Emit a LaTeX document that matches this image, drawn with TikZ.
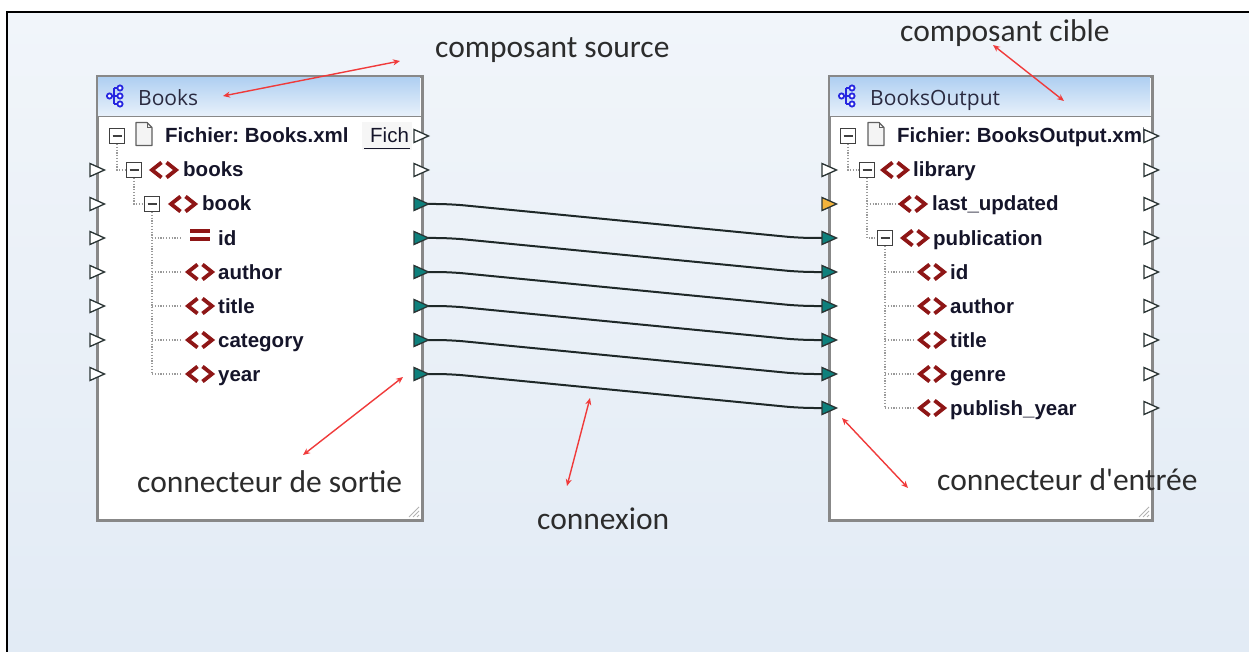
\documentclass[tikz,border=0pt]{standalone}
\usepackage{fontspec}
\newfontfamily\notefont{Carlito}
\newfontfamily\itemfont{Liberation Sans}
\newfontfamily\hdrfont{Open Sans}
\usetikzlibrary{calc,arrows.meta}
\frenchspacing
\definecolor{bgtop}{HTML}{F1F5FA}
\definecolor{bgbot}{HTML}{E2EBF5}
\definecolor{boxgray}{HTML}{888888}
\definecolor{hdrtop}{HTML}{AFCFF1}
\definecolor{hdrbot}{HTML}{E8F1FB}
\definecolor{hdrtxt}{HTML}{2A2A40}
\definecolor{itemtxt}{HTML}{15152A}
\definecolor{notetxt}{HTML}{2C2C2C}
\definecolor{minusgray}{HTML}{404040}
\definecolor{dotgray}{HTML}{9A9A9A}
\definecolor{darkred}{HTML}{8E1616}
\definecolor{compblue}{HTML}{2626E0}
\definecolor{docline}{HTML}{606060}
\definecolor{docfill}{HTML}{F4F4F4}
\definecolor{connc}{HTML}{1E2828}
\definecolor{portline}{HTML}{2A3434}
\definecolor{tealc}{HTML}{0E807C}
\definecolor{orangec}{HTML}{F4B43C}
\definecolor{redc}{HTML}{F03A3A}
\tikzset{
  x=1pt, y=-1pt,
  frameline/.style={line width=2pt, black},
  compbox/.style={draw=boxgray, line width=2pt, fill=white, inner sep=0pt, anchor=north west},
  item/.style={font=\itemfont\bfseries\fontsize{20.5}{24}\selectfont\frenchspacing, text=itemtxt, inner sep=0pt, anchor=base west},
  itemreg/.style={font=\itemfont\fontsize{20.5}{24}\selectfont, text=itemtxt, inner sep=0pt, anchor=base west},
  hdr/.style={font=\hdrfont\fontsize{21}{25}\selectfont, text=hdrtxt, inner sep=0pt, anchor=base west},
  note/.style={font=\notefont\fontsize{31.5}{36}\selectfont, text=notetxt, inner sep=0pt, anchor=base west},
  minbox/.style={draw=minusgray, line width=1.3pt, fill=white, minimum size=15pt, inner sep=0pt,
    path picture={\draw[line width=1.3pt, minusgray] ([xshift=3pt]path picture bounding box.west) -- ([xshift=-3pt]path picture bounding box.east);}},
  treeline/.style={dotgray, line width=1.2pt, dash pattern=on 1.2pt off 1.6pt},
  conn/.style={connc, line width=2pt, rounded corners=14pt},
  redarrow/.style={redc, line width=1.4pt, {Stealth[length=7pt,width=6pt]}-{Stealth[length=7pt,width=6pt]}},
  portw/.style={draw=portline, fill=white, line width=1.3pt, line join=miter},
  portt/.style={draw=portline, fill=tealc, line width=1.3pt, line join=miter},
  porto/.style={draw=portline, fill=orangec, line width=1.3pt, line join=miter},
  tagstroke/.style={darkred, line width=3.8pt, line join=miter},
  grip/.style={gray!60, line width=1pt},
  pics/tagicon/.style={code={
    \draw[tagstroke] (-2.5,-7.5) -- (-12,0) -- (-2.5,7.5);
    \draw[tagstroke] (2.5,-7.5) -- (12,0) -- (2.5,7.5);
  }},
  pics/eqicon/.style={code={
    \draw[darkred, line width=3.8pt] (-10,-4) -- (10,-4);
    \draw[darkred, line width=3.8pt] (-10,4) -- (10,4);
  }},
  pics/docicon/.style={code={
    \draw[docline, line width=1.1pt, fill=docfill, line join=round] (-8,-11.5) -- (3,-11.5) -- (8,-6.5) -- (8,11.5) -- (-8,11.5) -- cycle;
    \draw[docline, line width=1pt] (3,-11.5) -- (3,-6.5) -- (8,-6.5);
  }},
  pics/compicon/.style={code={
    \draw[compblue, line width=2pt] (-5,0) -- (-1,0) (-1,-8) -- (-1,8) (-1,-8) -- (5,-8) (-1,0) -- (5,0) (-1,8) -- (5,8);
    \draw[compblue, line width=1.8pt, fill=white] (-5.5,0) circle (2.6) (5,-8) circle (2.6) (5,0) circle (2.6) (5,8) circle (2.6);
  }},
}
\newcommand\portdraw[2]{\draw[#1] (#2) ++(-7,-6.5) -- ++(14.5,6.5) -- ++(-14.5,6.5) -- cycle;}
\begin{document}
\begin{tikzpicture}
\useasboundingbox (0,0) rectangle (1249,652);
\fill[white] (0,0) rectangle (1249,652);
\shade[top color=bgtop, bottom color=bgbot] (7,12) rectangle (1249,652);
\draw[frameline] (7,652) -- (7,12) -- (1249,12);

% ---------------- source component ----------------
\node[compbox, minimum width=324pt, minimum height=443pt] (src) at (97,76) {};
\shade[top color=hdrtop, bottom color=hdrbot] (98,77) rectangle (420,116);
\draw[boxgray, line width=1.5pt] (97,116.5) -- (421,116.5);
\draw[boxgray, line width=2pt] (src.north west) rectangle (src.south east);
\pic at (115,96) {compicon};
\node[hdr] (srctitle) at (138,106) {Books};
\draw[grip] (409,517) -- (419,507) (413,517) -- (419,511) (417,517) -- (419,515);

% tree lines
\draw[treeline] (117,144) -- (117,170) -- (127,170);
\draw[treeline] (134,178) -- (134,204) -- (145,204);
\draw[treeline] (152,212) -- (152,374);
\foreach \r in {238,272,306,340,374} {\draw[treeline] (152,\r) -- (182,\r);}

\node[minbox] (sm0) at (117,136) {};
\node[minbox] (sm1) at (134,170) {};
\node[minbox] (sm2) at (152,204) {};
\pic at (144,134) {docicon};
\pic at (164,170) {tagicon};
\pic at (183,204) {tagicon};
\pic at (200,235) {eqicon};
\foreach \r in {272,306,340,374} {\pic at (200,\r) {tagicon};}

\node[item] (sfile) at (165,143) {Fichier: Books.xml};
\fill[white!93!gray] (362,122) rectangle (412,150);
\node[itemreg] (sfich) at (370,143) {Fich};
\draw[itemtxt, line width=1.2pt] (364,148.5) -- (410,148.5);
\node[item] (sbooks) at (183,177) {books};
\node[item] (sbook) at (202,211) {book};
\node[item] (sid) at (218,245) {id};
\node[item] (sauthor) at (218,279) {author};
\node[item] (stitle) at (218,313) {title};
\node[item] (scat) at (218,347) {category};
\node[item] (syear) at (218,381) {year};

% ---------------- target component ----------------
\node[compbox, minimum width=322pt, minimum height=443pt] (tgt) at (829,76) {};
\shade[top color=hdrtop, bottom color=hdrbot] (830,77) rectangle (1150,116);
\draw[boxgray, line width=1.5pt] (829,116.5) -- (1151,116.5);
\draw[boxgray, line width=2pt] (tgt.north west) rectangle (tgt.south east);
\pic at (847,96) {compicon};
\node[hdr] (tgttitle) at (870,106) {BooksOutput};
\draw[grip] (1139,517) -- (1149,507) (1143,517) -- (1149,511) (1147,517) -- (1149,515);

\draw[treeline] (848,144) -- (848,170) -- (859,170);
\draw[treeline] (867,178) -- (867,238) -- (877,238);
\draw[treeline] (867,204) -- (898,204);
\draw[treeline] (885,246) -- (885,408);
\foreach \r in {272,306,340,374,408} {\draw[treeline] (885,\r) -- (915,\r);}

\node[minbox] (tm0) at (848,136) {};
\node[minbox] (tm1) at (867,170) {};
\node[minbox] (tm2) at (885,238) {};
\pic at (876,134) {docicon};
\pic at (895,170) {tagicon};
\pic at (913,204) {tagicon};
\pic at (915,238) {tagicon};
\foreach \r in {272,306,340,374,408} {\pic at (932,\r) {tagicon};}

\begin{scope}
\clip (830,118) rectangle (1143,156);
\node[item] (tfile) at (897,143) {Fichier: BooksOutput.xml};
\end{scope}
\node[item] (tlib) at (913,177) {library};
\node[item] (tlast) at (932,211) {last\_updated};
\node[item] (tpub) at (933,245) {publication};
\node[item] (tid) at (950,279) {id};
\node[item] (tauthor) at (950,313) {author};
\node[item] (ttitle) at (950,347) {title};
\node[item] (tgenre) at (950,381) {genre};
\node[item] (tyear) at (950,415) {publish\_year};

% ---------------- ports ----------------
\foreach \i in {1,...,7} {\coordinate (Lin\i) at (97,{136+34*\i});}
\foreach \i in {0,...,7} {\coordinate (Lout\i) at (421,{136+34*\i});}
\foreach \i in {1,...,8} {\coordinate (Rin\i) at (829,{136+34*\i});}
\foreach \i in {0,...,8} {\coordinate (Rout\i) at (1151,{136+34*\i});}

% connections
\foreach \i in {2,...,7} {
  \pgfmathtruncatemacro\j{\i+1}
  \draw[conn] ($(Lout\i)+(7,0)$) -- ($(Lout\i)+(29,0)$) -- ($(Rin\j)+(-29,0)$) -- ($(Rin\j)+(-7,0)$);
}

\foreach \i in {1,...,7} {\portdraw{portw}{Lin\i}}
\portdraw{portw}{Lout0}
\portdraw{portw}{Lout1}
\foreach \i in {2,...,7} {\portdraw{portt}{Lout\i}}
\portdraw{portw}{Rin1}
\portdraw{porto}{Rin2}
\foreach \i in {3,...,8} {\portdraw{portt}{Rin\i}}
\foreach \i in {0,...,8} {\portdraw{portw}{Rout\i}}

% ---------------- annotations ----------------
\node[note] (nsrc) at (435,58) {composant source};
\node[note] (ntgt) at (900,42) {composant cible};
\node[note] (nout) at (137,492) {connecteur de sortie};
\node[note] (ncon) at (537,529) {connexion};
\node[note] (nin) at (937,490) {connecteur d'entrée};

\coordinate (a1s) at (400,61);  \coordinate (a1e) at (223,96);
\coordinate (a2s) at (993,45);  \coordinate (a2e) at (1064,101);
\coordinate (a3s) at (403,377); \coordinate (a3e) at (303,455);
\coordinate (a4s) at (590,398); \coordinate (a4e) at (567,486);
\coordinate (a5s) at (842,418); \coordinate (a5e) at (908,488);
\draw[redarrow] (a1s) -- (a1e);
\draw[redarrow] (a2s) -- (a2e);
\draw[redarrow] (a3s) -- (a3e);
\draw[redarrow] (a4s) -- (a4e);
\draw[redarrow] (a5s) -- (a5e);
\end{tikzpicture}
\end{document}
